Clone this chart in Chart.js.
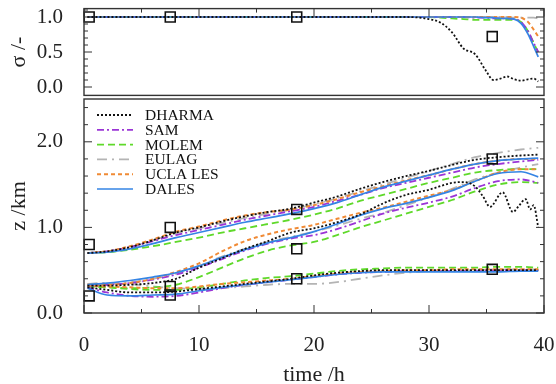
<!DOCTYPE html>
<html>
<head>
<meta charset="utf-8">
<title>sigma / z time series</title>
<script src="https://cdn.jsdelivr.net/npm/chart.js"></script>
<style>
    body { margin: 0; background: #fff; }
    #wrap { position: relative; width: 556px; height: 384px; }
    #wrap canvas { position: absolute; left: 0; top: 0; }
</style>
</head>
<body>
<div id="wrap">
    <canvas id="zChart" width="556" height="384"></canvas>
    <canvas id="sigmaChart" width="556" height="104"></canvas>
</div>
<script>
// time samples (h)
const hours = [0.3, 2, 4, 6, 8, 10, 12, 14, 16, 18, 20, 22, 24, 26, 28, 30, 32, 34, 36, 38, 39.5];
const sigmaHours = [0.3, 10, 20, 28, 30, 31, 32, 33, 34, 35, 35.6, 36.2, 36.8, 37.4, 38, 38.6, 39.1, 39.5];
const dharmaMidHours = [0.3, 2, 4, 6, 8, 10, 12, 14, 16, 18, 20, 22, 24, 26, 28, 30, 32, 33, 34, 34.7, 35.3, 36.4, 37.3, 37.8, 38.4, 38.8, 39.1, 39.5];

// cloud fraction sigma
const dharmaSigma = [1, 1, 1, 1, 0.97, 0.92, 0.78, 0.55, 0.47, 0.22, 0.10, 0.12, 0.15, 0.11, 0.09, 0.11, 0.12, 0.08];
const samSigma    = [1, 1, 1, 1, 1, 1, 1, 1, 0.99, 0.99, 0.98, 0.98, 0.98, 0.97, 0.93, 0.80, 0.63, 0.50];
const molemSigma  = [1, 1, 1, 1, 1, 0.99, 0.98, 0.97, 0.96, 0.96, 0.96, 0.96, 0.96, 0.96, 0.93, 0.80, 0.63, 0.49];
const eulagSigma  = [1, 1, 1, 1, 1, 1, 1, 1, 1, 1, 1, 1, 1, 0.99, 0.99, 0.99, 0.99, 0.98];
const uclaSigma   = [1, 1, 1, 1, 1, 1, 1, 1, 1, 1, 1, 1, 1, 1, 0.99, 0.93, 0.82, 0.72];
const dalesSigma  = [1, 1, 1, 1, 1, 1, 1, 1, 1, 0.99, 0.99, 0.98, 0.98, 0.97, 0.91, 0.76, 0.58, 0.43];

// upper heights (km)
const dharmaTop = [0.70, 0.72, 0.77, 0.85, 0.94, 1.00, 1.07, 1.13, 1.18, 1.22, 1.29, 1.36, 1.45, 1.53, 1.60, 1.66, 1.73, 1.79, 1.82, 1.84, 1.85];
const samTop    = [0.70, 0.72, 0.77, 0.84, 0.91, 0.97, 1.03, 1.09, 1.14, 1.19, 1.24, 1.31, 1.38, 1.46, 1.52, 1.58, 1.64, 1.70, 1.74, 1.77, 1.79];
const molemTop  = [0.70, 0.71, 0.74, 0.78, 0.83, 0.88, 0.94, 0.99, 1.04, 1.09, 1.15, 1.22, 1.31, 1.38, 1.45, 1.52, 1.58, 1.64, 1.67, 1.68, 1.68];
const eulagTop  = [0.70, 0.72, 0.77, 0.85, 0.93, 0.99, 1.05, 1.11, 1.16, 1.21, 1.27, 1.34, 1.42, 1.50, 1.58, 1.66, 1.74, 1.82, 1.87, 1.91, 1.93];
const uclaTop   = [0.70, 0.72, 0.78, 0.86, 0.95, 1.01, 1.08, 1.14, 1.18, 1.21, 1.26, 1.33, 1.41, 1.48, 1.55, 1.61, 1.68, 1.74, 1.78, 1.80, 1.80];
const dalesTop  = [0.70, 0.71, 0.75, 0.81, 0.88, 0.94, 1.00, 1.06, 1.11, 1.16, 1.22, 1.29, 1.38, 1.47, 1.54, 1.61, 1.68, 1.74, 1.78, 1.80, 1.81];

// middle heights (km)
const dharmaMid = [0.32, 0.32, 0.33, 0.35, 0.40, 0.53, 0.64, 0.75, 0.84, 0.94, 0.99, 1.06, 1.15, 1.28, 1.38, 1.44, 1.52, 1.53, 1.48, 1.36, 1.24, 1.41, 1.18, 1.25, 1.33, 1.21, 1.26, 1.00];
const samMid    = [0.32, 0.33, 0.35, 0.39, 0.45, 0.53, 0.63, 0.73, 0.81, 0.87, 0.91, 0.98, 1.07, 1.16, 1.23, 1.29, 1.36, 1.46, 1.54, 1.56, 1.52];
const molemMid  = [0.31, 0.30, 0.29, 0.30, 0.33, 0.42, 0.53, 0.64, 0.73, 0.79, 0.83, 0.91, 1.00, 1.08, 1.16, 1.24, 1.32, 1.42, 1.50, 1.53, 1.52];
const eulagMid  = [0.34, 0.35, 0.36, 0.40, 0.46, 0.55, 0.66, 0.75, 0.83, 0.89, 0.95, 1.02, 1.10, 1.17, 1.26, 1.35, 1.45, 1.56, 1.64, 1.70, 1.74];
const uclaMid   = [0.33, 0.33, 0.35, 0.40, 0.48, 0.58, 0.72, 0.84, 0.92, 0.98, 1.03, 1.10, 1.17, 1.23, 1.30, 1.37, 1.44, 1.54, 1.64, 1.68, 1.68];
const dalesMid  = [0.33, 0.35, 0.38, 0.42, 0.47, 0.55, 0.65, 0.74, 0.82, 0.88, 0.95, 1.04, 1.14, 1.22, 1.28, 1.35, 1.43, 1.54, 1.63, 1.65, 1.59];

// lower heights (km)
const dharmaLow = [0.30, 0.27, 0.24, 0.24, 0.25, 0.28, 0.31, 0.34, 0.37, 0.40, 0.44, 0.47, 0.49, 0.50, 0.50, 0.50, 0.50, 0.50, 0.50, 0.50, 0.50];
const samLow    = [0.30, 0.24, 0.20, 0.19, 0.20, 0.24, 0.29, 0.33, 0.36, 0.39, 0.42, 0.45, 0.47, 0.48, 0.49, 0.49, 0.49, 0.49, 0.50, 0.50, 0.50];
const molemLow  = [0.31, 0.30, 0.28, 0.27, 0.27, 0.30, 0.34, 0.38, 0.41, 0.43, 0.46, 0.49, 0.51, 0.52, 0.53, 0.53, 0.53, 0.53, 0.54, 0.54, 0.53];
const eulagLow  = [0.34, 0.35, 0.34, 0.31, 0.29, 0.28, 0.29, 0.31, 0.33, 0.34, 0.34, 0.36, 0.40, 0.44, 0.47, 0.49, 0.49, 0.50, 0.51, 0.51, 0.51];
const uclaLow   = [0.32, 0.31, 0.30, 0.29, 0.29, 0.31, 0.34, 0.36, 0.38, 0.40, 0.43, 0.46, 0.48, 0.49, 0.50, 0.50, 0.51, 0.51, 0.51, 0.51, 0.51];
const dalesLow  = [0.29, 0.21, 0.20, 0.21, 0.22, 0.26, 0.30, 0.33, 0.36, 0.39, 0.42, 0.45, 0.47, 0.48, 0.48, 0.48, 0.48, 0.48, 0.48, 0.49, 0.49];

// observations (squares)
const obsSigmaTime = [0.45, 7.5, 18.5, 35.5];
const obsSigma     = [1.0, 1.0, 1.0, 0.72];
const obsZTime = [0.45, 0.45, 7.5, 7.5, 7.5, 18.5, 18.5, 18.5, 35.5, 35.5];
const obsZ     = [0.80, 0.20, 1.00, 0.31, 0.21, 1.21, 0.75, 0.40, 1.80, 0.51];

// tick labels
const timeTicks = [0, 10, 20, 30, 40];
const sigmaTicks = [0, 0.5, 1];
const zTicks = [0, 1, 2];

// model line styles
const models = [
    { name: 'DHARMA',   color: '#111111', dash: [2, 2],        width: 1.8 },
    { name: 'SAM',      color: '#9b35d6', dash: [7, 3, 2, 3],  width: 1.8 },
    { name: 'MOLEM',    color: '#5fd92a', dash: [7, 4],        width: 1.8 },
    { name: 'EULAG',    color: '#b4b4b4', dash: [10, 5, 2, 5], width: 1.8 },
    { name: 'UCLA LES', color: '#f08a35', dash: [4, 3],        width: 2 },
    { name: 'DALES',    color: '#3584e4', dash: [],            width: 1.7 }
];

const serif = '"Liberation Serif", "DejaVu Serif", serif';

function pts(times, values) {
    return times.map((t, i) => ({ x: t, y: values[i] }));
}

function line(model, times, values) {
    return {
        type: 'line',
        data: pts(times, values),
        borderColor: model.color,
        borderDash: model.dash,
        borderWidth: model.width,
        pointRadius: 0,
        fill: false,
        cubicInterpolationMode: 'monotone'
    };
}

function squares(times, values) {
    return {
        type: 'scatter',
        data: pts(times, values),
        pointStyle: 'rect',
        pointRadius: 7,
        borderColor: '#111',
        borderWidth: 1.6,
        backgroundColor: 'rgba(0,0,0,0)',
        clip: false
    };
}

function range(from, to, step) {
    const out = [];
    for (let v = from; v <= to + 1e-9; v += step) out.push(Math.round(v * 100) / 100);
    return out;
}

// keep tick labels from pushing the plot area around
function fixWidth(w) {
    return s => { s.width = w; s.paddingTop = 0; s.paddingBottom = 0; };
}
function fixHeight(h) {
    return s => { s.height = h; s.paddingLeft = 0; s.paddingRight = 0; };
}

// frame + inward ticks, gnuplot style
const framePlugin = {
    id: 'frame',
    afterDraw(chart, args, opts) {
        const { ctx, chartArea: a, scales } = chart;
        const mark = (x1, y1, x2, y2) => {
            ctx.beginPath(); ctx.moveTo(x1, y1); ctx.lineTo(x2, y2); ctx.stroke();
        };
        ctx.save();
        ctx.strokeStyle = '#333';
        ctx.lineWidth = 1;
        opts.yMajor.concat(opts.yMinor).forEach(v => {
            const len = opts.yMajor.includes(v) ? 8 : 4;
            const p = scales.y.getPixelForValue(v);
            mark(a.left, p, a.left + len, p);
            mark(a.right, p, a.right - len, p);
        });
        opts.xMajor.concat(opts.xMinor).forEach(v => {
            const len = opts.xMajor.includes(v) ? 8 : 4;
            const p = scales.x.getPixelForValue(v);
            if (opts.xEdge === 'top') mark(p, a.top, p, a.top + len);
            else mark(p, a.bottom, p, a.bottom - len);
        });
        ctx.lineWidth = 1.4;
        ctx.strokeRect(a.left, a.top, a.right - a.left, a.bottom - a.top);
        ctx.restore();
    }
};

// legend inside the lower panel
const legendPlugin = {
    id: 'innerLegend',
    afterDatasetsDraw(chart) {
        const { ctx, chartArea: a } = chart;
        ctx.save();
        ctx.font = '15.5px ' + serif;
        ctx.textBaseline = 'middle';
        ctx.fillStyle = '#111';
        models.forEach((m, i) => {
            const y = a.top + 16 + i * 14.8;
            ctx.strokeStyle = m.color;
            ctx.lineWidth = m.width;
            ctx.setLineDash(m.dash);
            ctx.beginPath();
            ctx.moveTo(a.left + 13, y);
            ctx.lineTo(a.left + 49, y);
            ctx.stroke();
            ctx.fillText(m.name, a.left + 61, y + 1);
        });
        ctx.restore();
    }
};

const [DHARMA, SAM, MOLEM, EULAG, UCLA, DALES] = models;

// ---- top panel: sigma ----
new Chart(document.getElementById('sigmaChart'), {
    type: 'line',
    data: {
        datasets: [
            squares(obsSigmaTime, obsSigma),
            line(DHARMA, sigmaHours, dharmaSigma),
            line(DALES, sigmaHours, dalesSigma),
            line(UCLA, sigmaHours, uclaSigma),
            line(SAM, sigmaHours, samSigma),
            line(MOLEM, sigmaHours, molemSigma),
            line(EULAG, sigmaHours, eulagSigma)
        ]
    },
    options: {
        responsive: false,
        animation: false,
        layout: { padding: { top: 5, right: 12, bottom: 5, left: 0 } },
        plugins: {
            legend: { display: false },
            tooltip: { enabled: false },
            frame: { yMajor: sigmaTicks, yMinor: range(0.1, 1.1, 0.1).filter(v => !sigmaTicks.includes(v)),
                     xMajor: timeTicks, xMinor: [5, 15, 25, 35], xEdge: 'top' }
        },
        scales: {
            x: { type: 'linear', min: 0, max: 40, display: false },
            y: {
                type: 'linear', min: -0.12, max: 1.12,
                afterBuildTicks: s => { s.ticks = sigmaTicks.map(v => ({ value: v })); },
                afterFit: fixWidth(84),
                grid: { display: false },
                border: { display: false },
                ticks: { padding: 13, color: '#222', font: { family: serif, size: 21 },
                         callback: v => v.toFixed(1) },
                title: { display: true, text: 'σ /-', color: '#222',
                         font: { family: serif, size: 22, lineHeight: 1 }, padding: { top: 8, bottom: 0 } }
            }
        }
    },
    plugins: [framePlugin]
});

// ---- bottom panel: heights ----
new Chart(document.getElementById('zChart'), {
    type: 'line',
    data: {
        datasets: [
            squares(obsZTime, obsZ),
            line(DHARMA, hours, dharmaTop), line(DHARMA, dharmaMidHours, dharmaMid), line(DHARMA, hours, dharmaLow),
            line(DALES, hours, dalesTop), line(DALES, hours, dalesMid), line(DALES, hours, dalesLow),
            line(UCLA, hours, uclaTop), line(UCLA, hours, uclaMid), line(UCLA, hours, uclaLow),
            line(SAM, hours, samTop), line(SAM, hours, samMid), line(SAM, hours, samLow),
            line(MOLEM, hours, molemTop), line(MOLEM, hours, molemMid), line(MOLEM, hours, molemLow),
            line(EULAG, hours, eulagTop), line(EULAG, hours, eulagMid), line(EULAG, hours, eulagLow)
        ]
    },
    options: {
        responsive: false,
        animation: false,
        layout: { padding: { top: 99, right: 12, bottom: 0, left: 0 } },
        plugins: {
            legend: { display: false },
            tooltip: { enabled: false },
            frame: { yMajor: zTicks, yMinor: range(0.2, 2.4, 0.2).filter(v => !zTicks.includes(v)),
                     xMajor: timeTicks, xMinor: [5, 15, 25, 35], xEdge: 'bottom' }
        },
        scales: {
            x: {
                type: 'linear', min: 0, max: 40,
                afterBuildTicks: s => { s.ticks = timeTicks.map(v => ({ value: v })); },
                afterFit: fixHeight(71),
                grid: { display: false },
                border: { display: false },
                ticks: { padding: 12, color: '#222', maxRotation: 0, font: { family: serif, size: 21 } },
                title: { display: true, text: 'time /h', color: '#222',
                         font: { family: serif, size: 22, lineHeight: 1 }, padding: { top: 0, bottom: -2 } }
            },
            y: {
                type: 'linear', min: 0, max: 2.5,
                afterBuildTicks: s => { s.ticks = zTicks.map(v => ({ value: v })); },
                afterFit: fixWidth(84),
                grid: { display: false },
                border: { display: false },
                ticks: { padding: 13, color: '#222', font: { family: serif, size: 21 },
                         callback: v => v.toFixed(1) },
                title: { display: true, text: 'z /km', color: '#222',
                         font: { family: serif, size: 22, lineHeight: 1 }, padding: { top: 8, bottom: 0 } }
            }
        }
    },
    plugins: [framePlugin, legendPlugin]
});
</script>
</body>
</html>
